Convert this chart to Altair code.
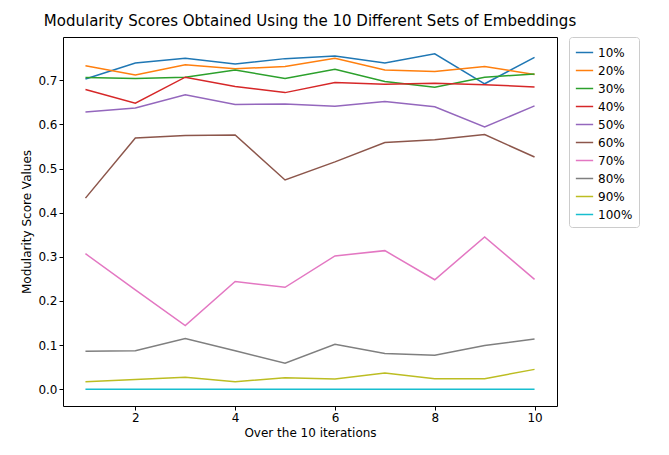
import altair as alt
import pandas as pd

iters = list(range(1, 11))
series = ["10%", "20%", "30%", "40%", "50%", "60%", "70%", "80%", "90%", "100%"]
v10 = [0.703, 0.739, 0.750, 0.737, 0.749, 0.755, 0.739, 0.760, 0.692, 0.752]
v20 = [0.733, 0.712, 0.735, 0.726, 0.731, 0.750, 0.723, 0.720, 0.731, 0.713]
v30 = [0.706, 0.704, 0.707, 0.723, 0.704, 0.725, 0.697, 0.684, 0.707, 0.714]
v40 = [0.679, 0.648, 0.707, 0.686, 0.672, 0.695, 0.691, 0.693, 0.690, 0.685]
v50 = [0.628, 0.637, 0.667, 0.645, 0.646, 0.641, 0.652, 0.640, 0.594, 0.642]
v60 = [0.433, 0.569, 0.575, 0.576, 0.474, 0.515, 0.559, 0.565, 0.577, 0.526]
v70 = [0.307, 0.225, 0.144, 0.244, 0.231, 0.302, 0.314, 0.248, 0.345, 0.249]
v80 = [0.086, 0.087, 0.115, 0.087, 0.059, 0.102, 0.081, 0.077, 0.099, 0.114]
v90 = [0.017, 0.022, 0.027, 0.017, 0.026, 0.023, 0.037, 0.024, 0.024, 0.045]
v100 = [0.0] * 10
colors = ["#1f77b4", "#ff7f0e", "#2ca02c", "#d62728", "#9467bd",
          "#8c564b", "#e377c2", "#7f7f7f", "#bcbd22", "#17becf"]

rows = []
for s, vals in zip(series, [v10, v20, v30, v40, v50, v60, v70, v80, v90, v100]):
    for i, v in zip(iters, vals):
        rows.append({"iter": i, "value": v, "series": s})
df = pd.DataFrame(rows)

chart = alt.Chart(df).mark_line(strokeWidth=1.5).encode(
    x=alt.X("iter:Q", title="Over the 10 iterations",
            scale=alt.Scale(domain=[0.55, 10.45], nice=False, zero=False),
            axis=alt.Axis(values=[2, 4, 6, 8, 10], grid=False, format="d")),
    y=alt.Y("value:Q", title="Modularity Score Values",
            scale=alt.Scale(domain=[-0.038, 0.798], nice=False),
            axis=alt.Axis(values=[0, 0.1, 0.2, 0.3, 0.4, 0.5, 0.6, 0.7], format=".1f", grid=False)),
    color=alt.Color("series:N", sort=series, title=None,
                    scale=alt.Scale(domain=series, range=colors),
                    legend=alt.Legend(symbolType="stroke", symbolStrokeWidth=1.5,
                                      strokeColor="#cccccc", padding=6, cornerRadius=3,
                                      labelFontSize=12, symbolSize=300, offset=12)),
    order="iter:Q",
).properties(
    width=494, height=369,
    padding={"left": 12, "top": 5, "right": 5, "bottom": 5},
    title=alt.Title("Modularity Scores Obtained Using the 10 Different Sets of Embeddings",
                    fontSize=15, fontWeight="normal", offset=8),
).configure_view(stroke="black", strokeWidth=1).configure_axis(
    domain=False, tickColor="black", labelColor="black", titleColor="black",
    labelFontSize=12, titleFontSize=12, titleFontWeight="normal", labelFont="DejaVu Sans",
    titleFont="DejaVu Sans", tickSize=4
).configure_title(font="DejaVu Sans", color="black").configure_legend(labelFont="DejaVu Sans")

chart.save("out.html", embed_options={"renderer": "svg", "actions": False})
